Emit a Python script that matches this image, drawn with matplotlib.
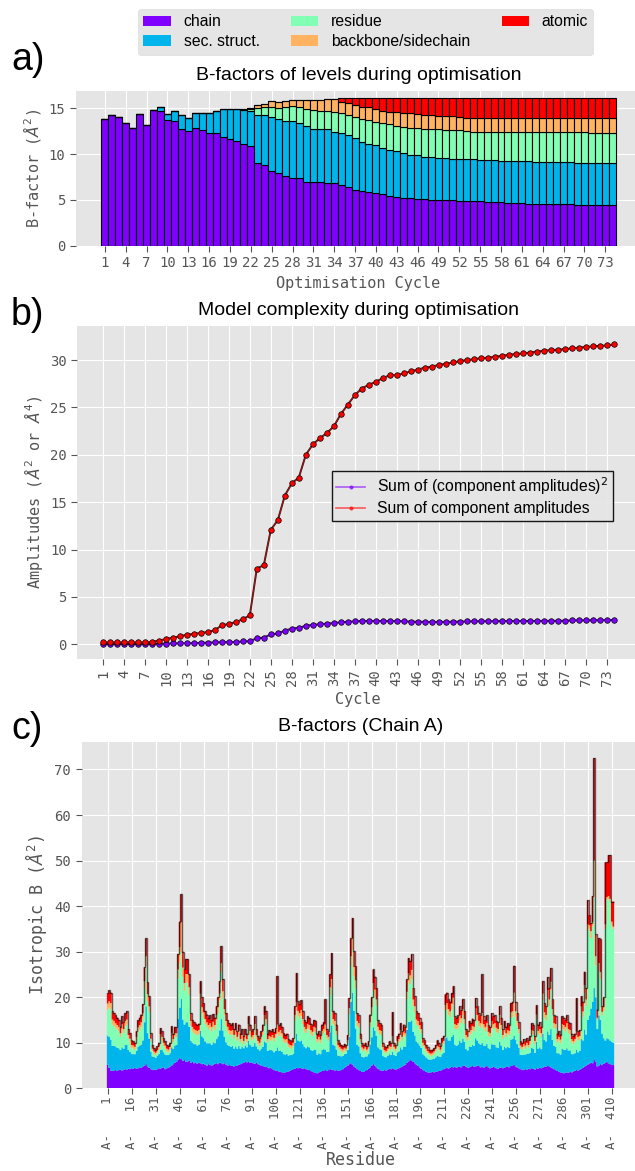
import numpy as np
import matplotlib
matplotlib.use('Agg')
import matplotlib.pyplot as plt
from matplotlib.patches import Patch
from matplotlib.lines import Line2D

plt.style.use('ggplot')
plt.rcParams['font.family'] = ['DejaVu Sans Mono']
plt.rcParams['mathtext.fontset'] = 'dejavusans'
SANS = ['Liberation Sans', 'DejaVu Sans']

# ---------------- data ----------------
level_names = ['chain', 'sec. struct.', 'residue', 'backbone/sidechain', 'atomic']
level_colors = plt.cm.rainbow(np.linspace(0, 1, 5))

cycles = list(range(1, 75))
cycle_ticks = list(range(1, 75, 3))

# Panel a: cumulative top of each level per optimisation cycle (A^2)
a_chain_top = [13.88, 14.28, 14.10, 13.37, 12.90, 14.35, 13.15, 14.78, 14.71, 13.77,
               13.66, 12.79, 12.50, 12.83, 12.60, 12.28, 12.28, 11.85, 11.60, 11.49,
               11.16, 10.90, 8.99, 8.84, 8.15, 7.90, 7.60, 7.39, 7.39, 6.96,
               6.96, 6.95, 6.88, 6.80, 6.60, 6.40, 6.12, 5.95, 5.82, 5.75,
               5.60, 5.45, 5.35, 5.25, 5.18, 5.08, 5.05, 5.02, 4.98, 4.96,
               4.95, 4.88, 4.86, 4.84, 4.84, 4.80, 4.76, 4.72, 4.70, 4.70,
               4.62, 4.60, 4.60, 4.60, 4.60, 4.60, 4.60, 4.52, 4.50, 4.50,
               4.48, 4.48, 4.48, 4.48]
a_secstruct_top = [13.88, 14.28, 14.10, 13.37, 12.90, 14.35, 13.15, 14.78, 15.10, 14.35,
                   14.67, 14.28, 13.99, 14.53, 14.53, 14.53, 14.71, 14.89, 14.93, 14.93,
                   14.86, 14.71, 14.31, 14.24, 14.06, 13.88, 13.66, 13.59, 13.41, 13.08,
                   12.79, 12.78, 12.72, 12.45, 12.27, 12.05, 11.75, 11.35, 11.10, 10.95,
                   10.72, 10.45, 10.30, 10.12, 9.95, 9.88, 9.72, 9.66, 9.60, 9.55,
                   9.50, 9.47, 9.44, 9.42, 9.40, 9.35, 9.33, 9.30, 9.28, 9.26,
                   9.24, 9.20, 9.18, 9.16, 9.15, 9.14, 9.12, 9.10, 9.08, 9.06,
                   9.04, 9.03, 9.02, 9.02]
a_residue_top = [13.88, 14.28, 14.10, 13.37, 12.90, 14.35, 13.15, 14.78, 15.10, 14.35,
                 14.67, 14.28, 13.99, 14.53, 14.53, 14.53, 14.71, 14.89, 14.93, 14.93,
                 14.95, 14.90, 15.07, 15.20, 15.14, 15.07, 15.14, 15.22, 15.14, 14.89,
                 14.78, 14.76, 14.74, 14.63, 14.45, 14.27, 14.02, 13.80, 13.72, 13.54,
                 13.36, 13.25, 13.10, 13.00, 12.89, 12.81, 12.78, 12.74, 12.70, 12.65,
                 12.63, 12.62, 12.48, 12.45, 12.45, 12.45, 12.45, 12.45, 12.40, 12.40,
                 12.40, 12.40, 12.40, 12.40, 12.40, 12.40, 12.40, 12.38, 12.38, 12.38,
                 12.36, 12.36, 12.36, 12.36]
a_bbsc_top = [13.88, 14.28, 14.10, 13.37, 12.90, 14.35, 13.15, 14.78, 15.10, 14.35,
              14.67, 14.28, 13.99, 14.53, 14.53, 14.53, 14.71, 14.89, 14.93, 14.93,
              14.95, 15.00, 15.36, 15.50, 15.80, 15.65, 15.83, 15.90, 15.94, 15.94,
              15.90, 15.95, 16.00, 16.05, 15.70, 15.55, 15.36, 15.18, 15.11, 14.89,
              14.74, 14.63, 14.56, 14.45, 14.45, 14.34, 14.27, 14.23, 14.20, 14.16,
              14.16, 14.09, 13.98, 13.98, 13.98, 13.98, 13.98, 13.98, 13.98, 13.98,
              13.91, 13.91, 13.91, 13.91, 13.91, 13.91, 13.91, 13.91, 13.91, 13.91,
              13.91, 13.91, 13.91, 13.91]
a_atomic_top = [13.88, 14.28, 14.10, 13.37, 12.90, 14.35, 13.15, 14.78, 15.10, 14.35,
                14.67, 14.28, 13.99, 14.53, 14.53, 14.53, 14.71, 14.89, 14.93, 14.93,
                14.95, 15.00, 15.36, 15.50, 15.80, 15.65, 15.83, 15.90, 15.94, 15.94,
                15.90, 15.95, 16.00, 16.05, 16.12, 16.12, 16.12, 16.12, 16.12, 16.12,
                16.12, 16.12, 16.12, 16.12, 16.12, 16.12, 16.12, 16.12, 16.12, 16.12,
                16.12, 16.12, 16.12, 16.12, 16.12, 16.12, 16.12, 16.12, 16.12, 16.12,
                16.12, 16.12, 16.12, 16.12, 16.12, 16.12, 16.12, 16.12, 16.12, 16.12,
                16.12, 16.12, 16.12, 16.12]

# Panel b: model complexity
sum_sq_amplitudes = [0.02, 0.02, 0.02, 0.02, 0.02, 0.02, 0.02, 0.03, 0.06, 0.08,
                     0.10, 0.10, 0.11, 0.12, 0.15, 0.18, 0.20, 0.22, 0.22, 0.25,
                     0.30, 0.32, 0.65, 0.70, 1.05, 1.15, 1.45, 1.65, 1.75, 1.95,
                     2.05, 2.12, 2.18, 2.25, 2.32, 2.38, 2.42, 2.45, 2.45, 2.46,
                     2.45, 2.45, 2.44, 2.43, 2.40, 2.38, 2.37, 2.36, 2.36, 2.37,
                     2.38, 2.40, 2.41, 2.42, 2.43, 2.43, 2.44, 2.44, 2.45, 2.45,
                     2.46, 2.46, 2.47, 2.47, 2.48, 2.48, 2.49, 2.52, 2.53, 2.53,
                     2.54, 2.54, 2.55, 2.56]
sum_amplitudes = [0.20, 0.20, 0.20, 0.20, 0.20, 0.20, 0.20, 0.25, 0.40, 0.55,
                  0.70, 0.85, 1.00, 1.10, 1.20, 1.30, 1.50, 2.00, 2.15, 2.35,
                  2.65, 3.05, 8.00, 8.35, 12.10, 13.10, 15.70, 17.00, 17.60, 20.00,
                  21.10, 21.75, 22.30, 23.00, 24.30, 25.30, 26.30, 27.00, 27.40, 27.70,
                  28.10, 28.40, 28.40, 28.60, 28.80, 29.00, 29.20, 29.30, 29.50, 29.60,
                  29.75, 29.90, 30.00, 30.10, 30.20, 30.25, 30.35, 30.45, 30.55, 30.65,
                  30.70, 30.80, 30.90, 31.00, 31.05, 31.10, 31.15, 31.25, 31.30, 31.40,
                  31.45, 31.50, 31.55, 31.65]

# Panel c: residues of chain A and cumulative level tops (A^2)
residue_numbers = list(range(1, 310)) + list(range(404, 412))
c_chain_top = [
    5.2, 4.5, 3.9, 3.8, 3.9, 4.0, 3.8, 4.0, 4.1, 3.9,
    4.0, 4.2, 4.1, 4.3, 4.2, 4.4, 4.3, 4.5, 4.3, 4.4,
    4.6, 4.5, 4.8, 5.0, 5.3, 4.8, 4.5, 4.2, 4.0, 4.1,
    4.0, 4.2, 4.4, 4.3, 4.5, 4.6, 4.2, 4.4, 4.5, 4.8,
    5.0, 5.3, 5.6, 5.8, 6.3, 6.6, 6.4, 6.0, 6.2, 5.8,
    5.9, 6.1, 5.6, 5.8, 5.5, 5.7, 5.4, 5.6, 5.5, 5.3,
    5.4, 5.2, 5.0, 5.3, 5.1, 5.0, 5.2, 5.4, 5.5, 5.3,
    5.6, 5.5, 5.3, 5.5, 5.2, 5.0, 5.1, 4.9, 5.0, 4.8,
    4.9, 5.0, 5.2, 5.3, 5.5, 5.6, 5.8, 5.7, 5.9, 5.6,
    5.7, 5.5, 5.4, 5.6, 5.3, 5.2, 5.0, 4.9, 4.7, 4.8,
    4.6, 4.4, 4.5, 4.2, 4.0, 3.9, 3.8, 3.7, 3.6, 3.5,
    3.4, 3.5, 3.6, 3.7, 3.9, 4.0, 4.2, 4.3, 4.5, 4.4,
    4.5, 4.4, 4.3, 4.4, 4.2, 4.1, 4.0, 3.8, 3.6, 3.5,
    3.4, 3.3, 3.5, 3.6, 3.8, 3.9, 4.0, 3.8, 4.0, 4.2,
    4.1, 4.0, 3.9, 4.0, 3.8, 3.9, 4.0, 4.2, 4.5, 4.8,
    5.0, 5.3, 5.5, 5.2, 4.8, 4.5, 4.2, 4.0, 3.8, 3.6,
    3.6, 3.8, 4.0, 4.3, 4.6, 5.0, 5.3, 5.0, 4.6, 4.3,
    4.0, 3.9, 3.8, 4.0, 3.9, 4.1, 4.3, 4.2, 4.4, 4.2,
    4.1, 4.3, 4.4, 4.6, 4.8, 5.0, 5.2, 5.6, 5.9, 6.2,
    6.0, 5.8, 5.5, 5.2, 4.9, 4.6, 4.3, 4.0, 3.8, 3.6,
    3.5, 3.4, 3.5, 3.6, 3.5, 3.6, 3.7, 3.8, 3.9, 4.0,
    4.2, 4.4, 4.5, 4.3, 4.5, 4.7, 4.6, 4.8, 4.5, 4.7,
    4.8, 4.6, 4.9, 5.0, 4.7, 4.5, 4.6, 4.8, 4.9, 4.7,
    4.8, 5.0, 4.9, 4.6, 4.8, 4.5, 4.7, 4.9, 4.6, 4.4,
    4.5, 4.7, 4.6, 4.4, 4.3, 4.5, 4.6, 4.4, 4.5, 4.7,
    4.8, 4.6, 4.9, 5.0, 5.1, 4.8, 4.6, 4.4, 4.2, 4.1,
    4.0, 4.2, 4.1, 4.3, 4.2, 4.4, 4.3, 4.1, 4.4, 4.3,
    4.5, 4.4, 4.6, 4.8, 4.7, 4.9, 4.8, 4.6, 4.4, 4.2,
    4.0, 3.8, 3.6, 3.5, 3.4, 3.3, 3.4, 3.5, 3.4, 3.6,
    3.5, 3.7, 3.8, 4.0, 3.9, 4.1, 4.3, 4.5, 4.8, 5.0,
    5.2, 5.4, 5.6, 5.5, 6.2, 5.8, 4.8, 5.0, 5.3, 5.1,
    5.4, 5.6, 5.8, 5.5, 5.3, 5.2, 5.1]
c_secstruct_top = [
    11.6, 11.3, 10.7, 9.3, 9.3, 9.2, 8.9, 8.8, 8.4, 9.0,
    8.7, 9.5, 9.5, 8.4, 8.0, 7.6, 7.5, 7.5, 8.2, 9.1,
    9.4, 9.6, 10.5, 14.5, 18.0, 12.1, 10.9, 8.0, 7.0, 6.9,
    6.7, 7.1, 7.5, 8.4, 8.4, 7.9, 7.4, 7.3, 7.3, 7.7,
    9.0, 8.7, 9.4, 9.5, 15.2, 17.7, 19.6, 15.1, 14.0, 14.5,
    14.5, 13.5, 10.4, 10.0, 9.7, 9.7, 9.4, 9.6, 12.6, 11.4,
    11.0, 10.3, 9.9, 9.9, 9.9, 9.5, 10.1, 9.9, 10.8, 11.4,
    12.7, 15.2, 12.7, 11.3, 10.1, 9.5, 9.3, 9.1, 9.3, 8.7,
    9.2, 8.7, 9.3, 8.7, 9.2, 8.8, 9.4, 9.0, 10.4, 9.6,
    9.2, 9.2, 10.0, 9.2, 8.6, 8.3, 8.7, 9.1, 10.3, 10.0,
    8.2, 8.4, 8.4, 8.3, 7.9, 8.2, 9.0, 8.2, 8.3, 8.0,
    7.5, 7.4, 7.6, 7.2, 7.3, 7.3, 7.6, 10.0, 12.0, 10.5,
    10.3, 10.5, 9.7, 9.1, 8.8, 9.2, 9.0, 8.4, 8.2, 8.5,
    8.4, 7.4, 7.7, 7.5, 8.4, 8.6, 8.5, 8.0, 8.0, 12.3,
    13.8, 9.5, 9.3, 8.5, 7.2, 7.1, 7.0, 7.1, 7.5, 7.6,
    8.4, 11.3, 19.0, 21.0, 17.0, 13.1, 9.5, 9.2, 7.7, 6.9,
    6.8, 7.0, 7.0, 7.5, 9.6, 11.2, 13.4, 12.6, 11.5, 9.0,
    8.6, 8.4, 7.1, 6.9, 6.8, 7.1, 7.5, 7.3, 8.0, 7.3,
    7.1, 7.9, 8.1, 9.0, 8.5, 9.2, 9.1, 12.8, 14.6, 14.6,
    14.9, 12.4, 11.6, 10.3, 9.9, 9.4, 8.9, 7.5, 7.2, 6.8,
    6.5, 6.3, 6.3, 6.4, 6.5, 6.8, 7.1, 7.0, 6.9, 7.5,
    7.8, 11.0, 11.2, 10.5, 10.5, 11.3, 11.7, 9.6, 9.3, 9.6,
    10.4, 10.0, 10.9, 10.2, 8.6, 8.3, 9.2, 9.1, 9.5, 9.3,
    11.0, 10.5, 9.9, 9.6, 10.0, 9.4, 9.3, 9.8, 8.8, 8.6,
    9.7, 9.6, 9.6, 9.0, 8.9, 10.2, 9.4, 8.4, 9.1, 8.8,
    9.1, 8.9, 10.7, 10.8, 11.5, 10.7, 9.7, 8.9, 7.4, 7.3,
    7.4, 7.4, 7.6, 7.6, 7.8, 8.9, 8.7, 7.8, 10.2, 8.7,
    9.0, 8.6, 12.0, 10.6, 10.3, 12.5, 11.7, 13.0, 10.6, 9.3,
    9.1, 7.7, 7.7, 7.4, 8.7, 8.5, 8.4, 8.8, 8.3, 8.3,
    7.5, 7.5, 7.7, 8.5, 7.9, 8.2, 10.8, 10.5, 12.9, 11.8,
    15.0, 16.0, 17.5, 19.0, 22.0, 20.0, 13.0, 16.0, 15.0, 12.0,
    11.0, 10.5, 11.0, 10.8, 10.5, 10.2, 10.0]
c_residue_top = [
    17.2, 17.7, 17.3, 14.0, 13.7, 13.3, 12.9, 12.5, 11.3, 13.1,
    12.1, 13.7, 14.0, 10.9, 10.2, 8.9, 8.7, 8.5, 10.5, 12.4,
    12.9, 13.5, 15.3, 21.8, 26.8, 19.1, 16.7, 10.2, 8.1, 7.5,
    7.3, 7.9, 8.5, 11.1, 10.5, 9.3, 8.7, 8.1, 7.9, 8.5,
    11.4, 10.1, 11.3, 11.2, 24.1, 27.5, 30.0, 24.5, 21.4, 23.2,
    23.2, 20.5, 13.7, 12.5, 12.1, 11.9, 11.7, 11.9, 19.3, 16.5,
    15.5, 14.1, 13.5, 12.9, 13.3, 12.5, 13.5, 12.9, 14.9, 16.5,
    19.3, 25.5, 19.7, 16.1, 13.7, 12.5, 11.9, 11.7, 11.9, 10.9,
    11.9, 10.5, 11.7, 10.1, 10.9, 9.7, 10.9, 10.1, 13.1, 11.7,
    10.5, 10.9, 13.1, 10.9, 9.7, 9.3, 10.5, 11.7, 14.9, 14.1,
    10.1, 10.7, 10.5, 10.9, 10.3, 11.1, 12.0, 11.5, 11.9, 11.3,
    10.2, 9.9, 10.1, 9.1, 8.9, 8.7, 9.3, 14.9, 17.0, 15.8,
    15.3, 15.9, 14.1, 12.5, 12.1, 13.1, 12.9, 11.9, 11.5, 12.5,
    12.3, 10.1, 10.5, 9.9, 11.7, 12.1, 12.5, 10.9, 10.5, 20.5,
    22.0, 14.1, 13.7, 11.7, 8.9, 8.5, 8.1, 7.9, 8.3, 8.1,
    9.9, 16.3, 26.8, 30.4, 24.6, 21.9, 13.7, 13.3, 10.1, 8.4,
    8.1, 8.5, 7.9, 8.7, 13.5, 16.5, 21.4, 20.1, 18.1, 12.5,
    11.9, 11.7, 8.5, 7.9, 7.7, 8.1, 8.7, 8.5, 10.0, 8.5,
    8.1, 9.7, 10.1, 11.9, 10.5, 11.7, 11.3, 19.6, 23.4, 22.9,
    24.0, 18.1, 16.7, 14.0, 13.7, 12.9, 12.1, 9.3, 8.9, 8.1,
    7.7, 7.3, 7.1, 7.3, 7.5, 8.1, 8.9, 8.5, 7.9, 9.3,
    9.7, 17.0, 17.3, 16.1, 15.7, 17.2, 18.4, 13.1, 12.9, 13.3,
    14.9, 14.3, 16.1, 14.1, 10.9, 10.5, 12.3, 11.9, 12.7, 12.5,
    16.3, 14.9, 13.7, 13.3, 14.0, 13.1, 12.5, 13.3, 11.5, 11.3,
    13.7, 13.1, 13.3, 12.3, 12.1, 14.9, 12.9, 10.9, 12.3, 11.3,
    11.9, 11.7, 15.5, 15.7, 19.0, 15.7, 13.7, 12.1, 8.7, 8.5,
    9.1, 8.7, 9.3, 8.9, 9.7, 11.9, 11.7, 9.7, 15.1, 11.7,
    12.1, 11.3, 19.3, 15.5, 14.9, 20.0, 18.1, 21.6, 16.1, 13.3,
    13.1, 10.1, 10.5, 9.9, 13.1, 12.9, 12.5, 13.3, 12.1, 11.9,
    10.1, 9.7, 10.1, 11.0, 10.5, 10.7, 16.7, 15.7, 21.0, 18.1,
    34.5, 35.0, 33.0, 35.5, 42.0, 27.0, 15.0, 26.0, 24.0, 16.0,
    17.0, 35.0, 41.5, 41.6, 41.0, 36.0, 35.0]
c_bbsc_top = [
    18.6, 19.1, 18.7, 15.1, 14.8, 14.3, 13.9, 13.5, 12.1, 14.1,
    13.0, 14.8, 15.1, 11.7, 10.9, 9.5, 9.4, 9.1, 11.3, 13.4,
    13.9, 14.5, 16.5, 23.5, 29.0, 20.7, 18.0, 10.9, 8.7, 8.1,
    7.8, 8.4, 9.1, 11.9, 11.3, 10.0, 9.4, 8.7, 8.5, 9.1,
    12.2, 10.8, 12.1, 12.1, 26.1, 31.0, 36.5, 26.5, 23.1, 25.1,
    25.1, 22.2, 14.8, 13.5, 13.0, 12.8, 12.6, 12.8, 20.8, 17.8,
    16.7, 15.2, 14.5, 13.9, 14.3, 13.5, 14.6, 13.9, 16.1, 17.8,
    20.8, 27.5, 21.3, 17.4, 14.8, 13.5, 12.8, 12.6, 12.8, 11.7,
    12.8, 11.3, 12.6, 10.8, 11.7, 10.4, 11.7, 10.8, 14.1, 12.6,
    11.3, 11.7, 14.1, 11.7, 10.4, 10.0, 11.3, 12.6, 16.1, 15.2,
    10.8, 11.5, 11.3, 11.7, 11.1, 11.9, 14.0, 12.4, 12.8, 12.1,
    10.9, 10.7, 10.8, 9.8, 9.5, 9.4, 10.0, 16.1, 19.0, 17.0,
    16.5, 17.2, 15.2, 13.5, 13.0, 14.1, 13.9, 12.8, 12.4, 13.5,
    13.3, 10.8, 11.3, 10.7, 12.6, 13.0, 14.0, 11.7, 11.3, 22.2,
    24.0, 15.2, 14.8, 12.6, 9.5, 9.1, 8.7, 8.5, 8.9, 8.7,
    10.6, 17.6, 29.0, 33.0, 26.6, 23.7, 14.8, 14.3, 10.8, 9.0,
    8.7, 9.1, 8.5, 9.4, 14.5, 17.8, 23.1, 21.7, 19.5, 13.5,
    12.8, 12.6, 9.1, 8.4, 8.2, 8.7, 9.4, 9.1, 11.5, 9.1,
    8.7, 10.4, 10.8, 12.8, 11.3, 12.6, 12.1, 21.2, 25.3, 24.8,
    26.0, 19.5, 18.0, 15.1, 14.8, 13.9, 13.0, 10.0, 9.5, 8.7,
    8.2, 7.8, 7.6, 7.8, 8.1, 8.7, 9.5, 9.1, 8.5, 10.0,
    10.4, 18.3, 18.7, 17.4, 16.9, 18.6, 19.9, 14.1, 13.9, 14.3,
    16.1, 15.4, 17.4, 15.2, 11.7, 11.3, 13.3, 12.8, 13.7, 13.5,
    17.6, 16.1, 14.8, 14.3, 16.5, 14.1, 13.5, 14.3, 12.4, 12.1,
    14.8, 14.1, 14.3, 13.3, 13.0, 16.1, 13.9, 11.7, 13.3, 12.1,
    12.8, 12.6, 16.7, 16.9, 21.0, 16.9, 14.8, 13.0, 9.4, 9.1,
    9.8, 9.4, 10.0, 9.5, 10.4, 12.8, 12.6, 10.4, 16.2, 12.6,
    13.0, 12.1, 20.8, 16.7, 16.1, 21.6, 19.5, 23.4, 17.4, 14.3,
    14.1, 10.8, 11.3, 10.7, 14.1, 13.9, 13.5, 14.3, 13.0, 12.8,
    10.8, 10.4, 10.8, 12.5, 11.3, 11.5, 18.0, 16.9, 22.7, 19.5,
    36.0, 35.8, 34.5, 36.5, 50.0, 29.0, 15.5, 27.5, 25.5, 16.8,
    17.8, 36.0, 42.0, 42.2, 41.6, 36.6, 35.5]
c_atomic_top = [
    20.9, 21.5, 21.0, 16.9, 16.5, 16.0, 15.5, 15.0, 13.5, 15.8,
    14.5, 16.5, 16.9, 13.0, 12.1, 10.5, 10.3, 10.0, 12.5, 14.9,
    15.5, 16.2, 18.5, 26.6, 32.9, 23.3, 20.2, 12.1, 9.5, 8.8,
    8.5, 9.2, 10.0, 13.2, 12.5, 11.0, 10.3, 9.5, 9.3, 10.0,
    13.6, 12.0, 13.5, 13.4, 29.5, 36.6, 42.6, 30.0, 26.1, 28.4,
    28.4, 25.0, 16.5, 15.0, 14.5, 14.2, 14.0, 14.2, 23.5, 20.0,
    18.7, 17.0, 16.2, 15.5, 16.0, 15.0, 16.3, 15.5, 18.0, 20.0,
    23.5, 31.2, 24.0, 19.5, 16.5, 15.0, 14.3, 14.0, 14.3, 13.0,
    14.3, 12.5, 14.0, 12.0, 13.0, 11.5, 13.0, 12.0, 15.8, 14.0,
    12.5, 13.0, 15.8, 13.0, 11.5, 11.0, 12.5, 14.0, 18.0, 17.0,
    12.0, 12.8, 12.5, 13.0, 12.3, 13.2, 24.6, 13.8, 14.3, 13.5,
    12.1, 11.8, 12.0, 10.8, 10.5, 10.3, 11.0, 18.0, 25.3, 19.1,
    18.5, 19.3, 17.0, 15.0, 14.5, 15.8, 15.5, 14.2, 13.8, 15.0,
    14.8, 12.0, 12.5, 11.8, 14.0, 14.5, 19.5, 13.0, 12.5, 25.0,
    29.7, 17.0, 16.5, 14.0, 10.5, 10.0, 9.5, 9.3, 9.8, 9.5,
    11.7, 19.8, 32.9, 37.4, 30.1, 26.8, 16.5, 16.0, 12.0, 9.9,
    9.5, 10.0, 9.3, 10.3, 16.2, 20.0, 26.1, 24.5, 22.0, 15.0,
    14.3, 14.0, 10.0, 9.2, 9.0, 9.5, 10.3, 10.0, 16.7, 10.0,
    9.5, 11.5, 12.0, 14.3, 12.5, 14.0, 13.5, 23.9, 28.6, 28.0,
    29.4, 22.0, 20.2, 16.9, 16.5, 15.5, 14.5, 11.0, 10.5, 9.5,
    9.0, 8.5, 8.3, 8.5, 8.8, 9.5, 10.5, 10.0, 9.3, 11.0,
    11.5, 20.6, 21.0, 19.5, 19.0, 20.9, 22.4, 15.8, 15.5, 16.0,
    18.0, 17.2, 19.5, 17.0, 13.0, 12.5, 14.8, 14.3, 15.3, 15.0,
    19.8, 18.0, 16.5, 16.0, 25.0, 15.8, 15.0, 16.0, 13.8, 13.5,
    16.5, 15.8, 16.0, 14.8, 14.5, 18.0, 15.5, 13.0, 14.8, 13.5,
    14.3, 14.0, 18.7, 19.0, 26.9, 19.0, 16.5, 14.5, 10.3, 10.0,
    10.8, 10.3, 11.0, 10.5, 11.5, 14.3, 14.0, 11.5, 18.2, 14.0,
    14.5, 13.5, 23.5, 18.7, 18.0, 24.4, 22.0, 26.4, 19.5, 16.0,
    15.8, 12.0, 12.5, 11.8, 15.8, 15.5, 15.0, 16.0, 14.5, 14.3,
    12.0, 11.5, 12.0, 19.8, 12.5, 12.8, 20.2, 19.0, 25.6, 22.0,
    41.3, 38.0, 36.3, 42.2, 72.5, 33.8, 17.3, 33.0, 32.7, 18.0,
    20.0, 49.6, 49.6, 51.2, 51.2, 41.0, 41.0]

# ---------------- figure ----------------
W, H = 635, 1171
fig = plt.figure(figsize=(W / 100, H / 100), dpi=100)

def rect(left, top, right, bottom):
    return [left / W, 1 - bottom / H, (right - left) / W, (bottom - top) / H]

TICK_FS = 10
LABEL_FS = 11
TITLE_FS = 14
LEG_FS = 11.3

def style_axes(ax, labelsize=TICK_FS):
    ax.tick_params(axis='both', labelsize=labelsize, colors='#555555', length=4)
    for sp in ax.spines.values():
        sp.set_visible(False)

# ---- panel a ----
axa = fig.add_axes(rect(75.7, 90.7, 641.4, 245.7))
tops_a = [np.asarray(v) for v in (a_chain_top, a_secstruct_top, a_residue_top, a_bbsc_top, a_atomic_top)]
bottom = np.zeros(len(cycles))
for top, col in zip(tops_a, level_colors):
    axa.bar(cycles, top - bottom, bottom=bottom, width=1.0, color=col,
            edgecolor='black', linewidth=0.8)
    bottom = top
axa.set_xlim(0.5 - 3.7, 74.5 + 3.7)
axa.set_ylim(0, 16.93)
axa.set_xticks(cycle_ticks)
axa.set_xticklabels([str(c) for c in cycle_ticks])
axa.set_yticks([0, 5, 10, 15])
axa.set_xlabel('Optimisation Cycle', fontsize=LABEL_FS, color='#555555')
axa.set_ylabel(r'B-factor ($\AA^2$)', fontsize=LABEL_FS, color='#555555')
axa.set_title('B-factors of levels during optimisation', family=SANS,
              fontsize=TITLE_FS, color='black', pad=8)
style_axes(axa)

handles = [Patch(facecolor=c, edgecolor='none') for c in level_colors]
leg = fig.legend(handles, level_names, ncol=3, loc='upper left',
                 bbox_to_anchor=(138 / W, 1 - 9 / H), borderaxespad=0,
                 prop={'family': SANS, 'size': LEG_FS}, handlelength=1.75,
                 labelspacing=0.3, borderpad=0.35,
                 facecolor='#E5E5E5', edgecolor='#DDDDDD', framealpha=1,
                 fancybox=True)

# ---- panel b ----
axb = fig.add_axes(rect(77.3, 326, 639.3, 659))
series_b = [(sum_sq_amplitudes, level_colors[0], 'Sum of (component amplitudes)$^2$'),
            (sum_amplitudes, level_colors[4], 'Sum of component amplitudes')]
leg_handles = []
for vals, col, lab in series_b:
    axb.plot(cycles, vals, color='#222222', lw=1.4, zorder=3)
    axb.plot(cycles, vals, color=col, lw=0.8, alpha=0.6, zorder=4)
    axb.plot(cycles, vals, ls='none', marker='o', ms=4, mfc=col, mec='black',
             mew=0.5, zorder=5)
    leg_handles.append(Line2D([], [], color=col, lw=1.2, alpha=0.6, marker='.',
                              ms=4, mfc=col, mec=col))
axb.set_xlim(1 - 3.65, 74 + 3.65)
axb.set_ylim(-1.55, 33.6)
axb.set_xticks(cycle_ticks)
axb.set_xticklabels([str(c) for c in cycle_ticks], rotation=90)
axb.set_yticks([0, 5, 10, 15, 20, 25, 30])
axb.set_xlabel('Cycle', fontsize=LABEL_FS, color='#555555')
axb.set_ylabel(r'Amplitudes ($\AA^2$ or $\AA^4$)', fontsize=LABEL_FS, color='#555555')
axb.set_title('Model complexity during optimisation', family=SANS,
              fontsize=TITLE_FS, color='black', pad=8)
style_axes(axb)
lb = axb.legend(leg_handles, [s[2] for s in series_b], loc='upper left',
                bbox_to_anchor=((331.7 - 77.3) / 562, 1 - (470.7 - 326) / 333),
                borderaxespad=0, prop={'family': SANS, 'size': LEG_FS},
                fancybox=False, edgecolor='black', facecolor='#E5E5E5',
                framealpha=0.9, handlelength=1.8, labelspacing=0.25,
                borderpad=0.3)
lb.get_frame().set_linewidth(1.0)

# ---- panel c ----
axc = fig.add_axes(rect(81.5, 741.7, 639.5, 1088.3))
n_res = len(residue_numbers)
edges = np.arange(n_res + 1) - 0.5
tops_c = [np.asarray(v) for v in (c_chain_top, c_secstruct_top, c_residue_top, c_bbsc_top, c_atomic_top)]
base = np.zeros(n_res)
for top, col in zip(tops_c, level_colors):
    axc.stairs(top, edges, baseline=base, fill=True, color=col, lw=0)
    base = top
axc.stairs(tops_c[-1], edges, baseline=None, color='black', alpha=0.6, lw=1.0)
axc.set_xlim(-0.5 - 0.05 * n_res, n_res - 0.5 + 0.05 * n_res)
axc.set_ylim(0, 76.1)
tick_idx = list(range(0, n_res, 15))
axc.set_xticks(tick_idx)
axc.set_xticklabels(['A-%5d' % residue_numbers[i] for i in tick_idx], rotation=90)
axc.set_yticks(range(0, 80, 10))
axc.set_xlabel('Residue', fontsize=12, color='#555555', labelpad=1)
axc.set_ylabel(r'Isotropic B ($\AA^2$)', fontsize=12, color='#555555')
axc.set_title('B-factors (Chain A)', family=SANS, fontsize=TITLE_FS,
              color='black', pad=8)
style_axes(axc)
axc.tick_params(axis='x', labelsize=9, pad=2)

# panel letters
for txt, yb in (('a)', 70), ('b)', 325), ('c)', 739)):
    fig.text(11 / W, 1 - yb / H, txt, family=SANS, fontsize=27, va='baseline',
             ha='left', color='black')

fig.savefig('out.png', dpi=100)
